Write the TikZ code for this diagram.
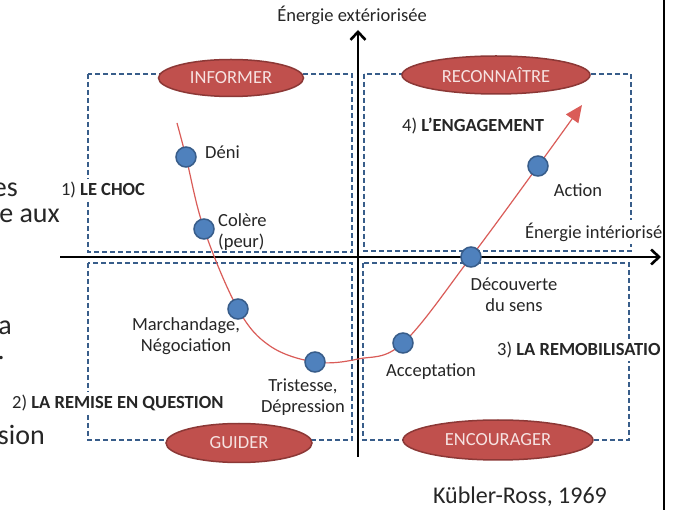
\documentclass[tikz,border=0pt]{standalone}
\usepackage{fontspec}
\setmainfont{Carlito}
\usetikzlibrary{shapes.geometric,arrows.meta,positioning}

\definecolor{boxblue}{RGB}{56,93,138}
\definecolor{badgered}{RGB}{192,80,77}
\definecolor{badgeline}{RGB}{140,56,54}
\definecolor{badgetext}{RGB}{246,226,225}
\definecolor{dotblue}{RGB}{79,129,189}
\definecolor{curvered}{RGB}{218,92,88}
\definecolor{inkgray}{RGB}{38,38,38}

\begin{document}
\begin{tikzpicture}[
    x=1pt, y=-1pt,
    font=\fontsize{18.5}{21.5}\selectfont,
    quadrant/.style={draw=boxblue, line width=1.5pt, dash pattern=on 5pt off 3pt},
    badge/.style={ellipse, draw=badgeline, line width=1.5pt, fill=badgered, text=badgetext, inner sep=0pt},
    dot/.style={circle, draw=boxblue, line width=1.5pt, fill=dotblue, minimum size=20pt, inner sep=0pt},
    stage/.style={text=inkgray, inner sep=1pt, align=center},
    phase/.style={fill=white, text=inkgray, inner sep=3pt},
    slidetext/.style={anchor=base east, inner sep=0pt, text=inkgray, font=\fontsize{28}{32}\selectfont},
    axis/.style={line width=2.6pt, -{Straight Barb[length=8pt,width=15pt]}},
    curve/.style={draw=curvered, line width=1.2pt, -{Triangle[length=17pt,width=15pt]}}
]
    \useasboundingbox (0,0) rectangle (675,510);
    \fill[white] (0,0) rectangle (675,510);

    % bits of the slide text behind the figure
    \node[slidetext] (frag1) at (18,197) {es};
    \node[slidetext] (frag2) at (60,223) {e aux};
    \node[slidetext] (frag3) at (12,335) {a};
    \node[slidetext] (frag4) at (5,360) {.};
    \node[slidetext] (frag5) at (45,445) {sion};

    % quadrants
    \draw[quadrant] (88,74) rectangle (352,252);
    \draw[quadrant] (364,74) rectangle (631,251);
    \draw[quadrant] (88,263) rectangle (352,440);
    \draw[quadrant] (363,263) rectangle (629,440);

    % axes
    \draw[axis] (358,457) -- (358,30);
    \draw[axis] (60,257) -- (661,257);

    \node[badge, minimum width=145pt, minimum height=37pt] (informer) at (231,78) {INFORMER};
    \node[badge, minimum width=188pt, minimum height=38pt] (reconnaitre) at (496,75) {RECONNAÎTRE};
    \node[badge, minimum width=146pt, minimum height=39pt] (guider) at (239,443) {GUIDER};
    \node[badge, minimum width=190pt, minimum height=40pt] (encourager) at (498,440) {ENCOURAGER};

    % the curve of change
    \coordinate (start) at (177,123);
    \coordinate (deni) at (186,157);
    \coordinate (colere) at (204,229);
    \coordinate (marchandage) at (238,309);
    \coordinate (creux) at (270,346);
    \coordinate (tristesse) at (315,362);
    \coordinate (remontee) at (358,359);
    \coordinate (acceptation) at (403,343);
    \coordinate (sens) at (471,257);
    \coordinate (action) at (538,166);
    \coordinate (tip) at (582,105);
    \draw[curve] plot[smooth, tension=0.6] coordinates {(start) (deni) (colere) (marchandage) (creux) (tristesse) (remontee) (acceptation) (sens) (action) (tip)};

    \foreach \p in {deni,colere,marchandage,tristesse,acceptation,sens,action}
        \node[dot] (\p-dot) at (\p) {};

    \node[stage, anchor=west] (deni-txt) at (204,152) {Déni};
    \node[stage, anchor=west, align=left] (colere-txt) at (217,232) {Colère\\(peur)};
    \node[stage] (marchandage-txt) at (186,336) {Marchandage,\\Négociation};
    \node[stage] (tristesse-txt) at (303,397) {Tristesse,\\Dépression};
    \node[stage] (acceptation-txt) at (431,372) {Acceptation};
    \node[stage] (sens-txt) at (514,295) {Découverte\\du sens};
    \node[stage] (action-txt) at (578,190) {Action};

    % axis names and phases
    \node[phase] (ext) at (352,15) {Énergie extériorisée};
    \node[phase, anchor=west] (int) at (522,232) {Énergie intériorisé};
    \node[phase] (choc) at (103,190) {1) \textbf{LE CHOC}};
    \node[phase] (engagement) at (473,126) {4) \textbf{L’ENGAGEMENT}};
    \node[phase, anchor=west] (remob) at (494,350) {3) \textbf{LA REMOBILISATIO}};
    \node[phase, anchor=west] (remise) at (9,403) {2) \textbf{LA REMISE EN QUESTION}};

    \node[stage, font=\fontsize{24}{28}\selectfont] (source) at (520,497) {Kübler-Ross, 1969};

    % edge of the slide
    \draw[line width=2.8pt] (664,0) -- (664,510);
\end{tikzpicture}
\end{document}
